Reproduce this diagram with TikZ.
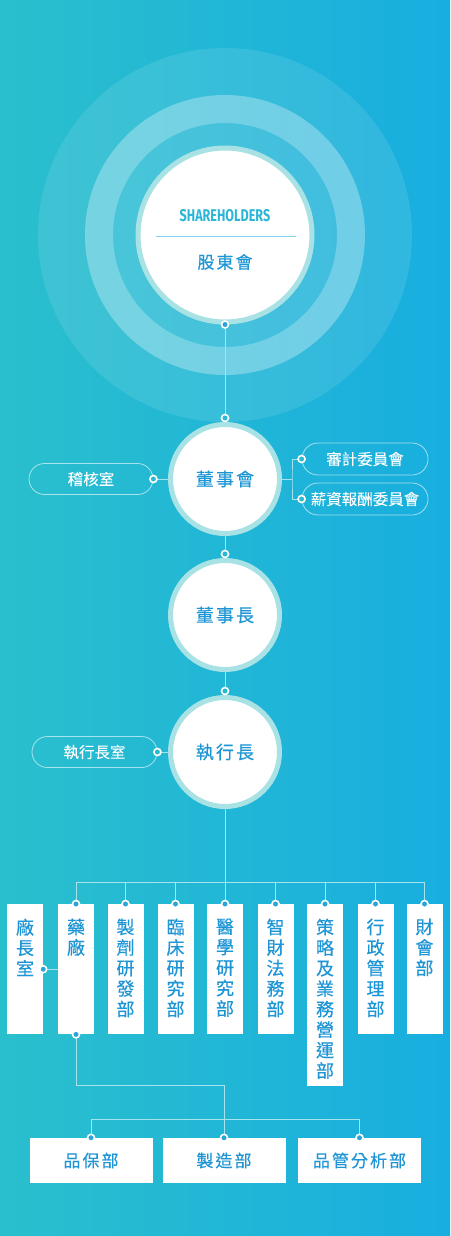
\documentclass[tikz,border=0pt]{standalone}
\usepackage{fontspec}
\usetikzlibrary{positioning,calc}
\newfontfamily\cjk[FakeBold=0.4]{Noto Sans CJK TC}
\newfontfamily\cjkwide[LetterSpace=12,FakeBold=0.4]{Noto Sans CJK TC}
\newfontfamily\latin[FakeStretch=0.74]{Fira Sans}
\definecolor{bgleft}{HTML}{2ABFCD}
\definecolor{bgright}{HTML}{18AEDF}
\definecolor{ringc}{HTML}{A8E2E5}
\definecolor{deptblue}{HTML}{1E96D6}
\definecolor{engblue}{HTML}{2BB6D8}
\definecolor{linec}{HTML}{A6E3EC}
\definecolor{dotblue}{HTML}{2AA4D9}
\definecolor{dothole}{HTML}{2ABACF}
\tikzstyle{board} = [circle,fill=white,draw=ringc,line width=5pt,minimum size=109pt,inner sep=0pt,text=deptblue,font=\cjkwide\fontsize{18}{18}\selectfont]
\tikzstyle{pill} = [rectangle,rounded corners=15.5pt,draw=white,draw opacity=.6,line width=.8pt,minimum width=124pt,minimum height=31pt,inner sep=0pt,text=white,font=\cjk\fontsize{15.5}{15.5}\selectfont]
\tikzstyle{vbox} = [rectangle,fill=white,minimum width=36pt,inner sep=0pt,anchor=north]
\tikzstyle{vtext} = [align=center,inner sep=0pt,text=deptblue,font=\cjk\fontsize{18}{20.5}\selectfont]
\tikzstyle{hbox} = [rectangle,fill=white,minimum width=123pt,minimum height=45pt,inner sep=0pt,text=deptblue,font=\cjkwide\fontsize{17}{17}\selectfont]
\tikzstyle{link} = [draw=linec,line width=.8pt]
\tikzstyle{hole} = [circle,draw=white,line width=1.6pt,fill=dothole,minimum size=7pt,inner sep=0pt]
\tikzstyle{knob} = [hole,fill=dotblue]

\begin{document}
\begin{tikzpicture}[x=1pt,y=-1pt]

	% background
	\shade[left color=bgleft,right color=bgright] (0,0) rectangle (450,1236);
	\useasboundingbox (0,0) rectangle (450,1236);

	% rings round the shareholders
	\coordinate (core) at (225,235);
	\fill[white,opacity=.1] (core) circle[radius=187pt];
	\fill[white,opacity=.3,even odd rule] (core) circle[radius=140pt] circle[radius=112pt];
	\fill[white,opacity=.07] (core) circle[radius=112pt];
	\node[board,minimum size=174pt] (sh) at (core) {};
	\node[text=engblue,font=\latin\bfseries\fontsize{17}{17}\selectfont] (shen) at (225,216) {SHAREHOLDERS};
	\draw[draw=engblue!60,line width=.8pt] (156,236) -- (296,236);
	\node[text=deptblue,font=\cjkwide\fontsize{17}{17}\selectfont] (shzh) at (225,262) {股東會};

	% the three circles
	\node[board] (bod) at (225,479) {董事會};
	\node[board] (chair) at (225,615) {董事長};
	\node[board] (ceo) at (225,752) {執行長};
	\draw[link] (sh.south) -- (bod.north);
	\draw[link] (bod.south) -- (chair.north);
	\draw[link] (chair.south) -- (ceo.north);

	% side offices
	\node[pill] (audit) at (91,479) {稽核室};
	\node[pill,minimum width=126pt,minimum height=32pt,rounded corners=16pt] (acom) at (365,459) {審計委員會};
	\node[pill,minimum width=126pt,minimum height=32pt,rounded corners=16pt] (rcom) at (365,499) {薪資報酬委員會};
	\node[pill,minimum width=125pt] (ceooff) at (94.5,752) {執行長室};
	\coordinate (fork) at (292,479);
	\draw[link] (audit.east) -- (bod.west);
	\draw[link] (bod.east) -- (fork);
	\draw[link] (acom.west) -| (fork) |- (rcom.west);
	\draw[link] (ceooff.east) -- (ceo.west);

	% departments
	\coordinate (bus) at (225,882);
	\draw[link] (ceo.south) -- (bus);
	\node[vbox,minimum height=130pt] (plantoff) at (25,904) {};
	\node[vbox,minimum height=130pt] (plant) at (76,904) {};
	\node[vbox,minimum height=130pt] (formu) at (125.5,904) {};
	\node[vbox,minimum height=130pt] (clinic) at (175.5,904) {};
	\node[vbox,minimum height=130pt] (medic) at (225,904) {};
	\node[vbox,minimum height=130pt] (legal) at (275.5,904) {};
	\node[vbox,minimum height=182pt] (strat) at (325,904) {};
	\node[vbox,minimum height=130pt] (admin) at (375.5,904) {};
	\node[vbox,minimum height=130pt] (fin) at (424.5,904) {};
	\node[vtext,below=14.5pt of plantoff.north] (tplantoff) {廠\\長\\室};
	\node[vtext,below=14.5pt of plant.north] (tplant) {藥\\廠};
	\node[vtext,below=14.5pt of formu.north] (tformu) {製\\劑\\研\\發\\部};
	\node[vtext,below=14.5pt of clinic.north] (tclinic) {臨\\床\\研\\究\\部};
	\node[vtext,below=14.5pt of medic.north] (tmedic) {醫\\學\\研\\究\\部};
	\node[vtext,below=14.5pt of legal.north] (tlegal) {智\\財\\法\\務\\部};
	\node[vtext,below=14.5pt of strat.north] (tstrat) {策\\略\\及\\業\\務\\營\\運\\部};
	\node[vtext,below=14.5pt of admin.north] (tadmin) {行\\政\\管\\理\\部};
	\node[vtext,below=14.5pt of fin.north] (tfin) {財\\會\\部};
	\draw[link] (plant.north) |- (bus);
	\draw[link] (formu.north) |- (bus);
	\draw[link] (clinic.north) |- (bus);
	\draw[link] (medic.north) -- (bus);
	\draw[link] (legal.north) |- (bus);
	\draw[link] (strat.north) |- (bus);
	\draw[link] (admin.north) |- (bus);
	\draw[link] (fin.north) |- (bus);
	\draw[link] (plantoff.east) -- (plant.west);

	% plant units
	\coordinate (turn) at (224,1085);
	\coordinate (bus2) at (224,1119);
	\node[hbox] (qa) at (91,1160.5) {品保部};
	\node[hbox] (mfg) at (224,1160.5) {製造部};
	\node[hbox] (qc) at (359.5,1160.5) {品管分析部};
	\draw[link] (plant.south) |- (turn) -- (mfg.north);
	\draw[link] (qa.north) |- (bus2) -| (qc.north);

	% dots
	\node[knob] (dsh) at (sh.south) {};
	\node[hole] (dbod) at ($(bod.north)+(0,-4)$) {};
	\node[hole] (dchair) at ($(chair.north)+(0,-4)$) {};
	\node[hole] (dceo) at ($(ceo.north)+(0,-4)$) {};
	\node[hole] (daudit) at (audit.east) {};
	\node[hole] (dacom) at (acom.west) {};
	\node[hole] (drcom) at (rcom.west) {};
	\node[hole] (dceooff) at (ceooff.east) {};
	\node[knob] (dplantoff) at (plantoff.east) {};
	\node[knob] (dplant) at (plant.north) {};
	\node[knob] (dformu) at (formu.north) {};
	\node[knob] (dclinic) at (clinic.north) {};
	\node[knob] (dmedic) at (medic.north) {};
	\node[knob] (dlegal) at (legal.north) {};
	\node[knob] (dstrat) at (strat.north) {};
	\node[knob] (dadmin) at (admin.north) {};
	\node[knob] (dfin) at (fin.north) {};
	\node[knob] (dplantb) at (plant.south) {};
	\node[knob] (dqa) at (qa.north) {};
	\node[knob] (dmfg) at (mfg.north) {};
	\node[knob] (dqc) at (qc.north) {};

\end{tikzpicture}
\end{document}
